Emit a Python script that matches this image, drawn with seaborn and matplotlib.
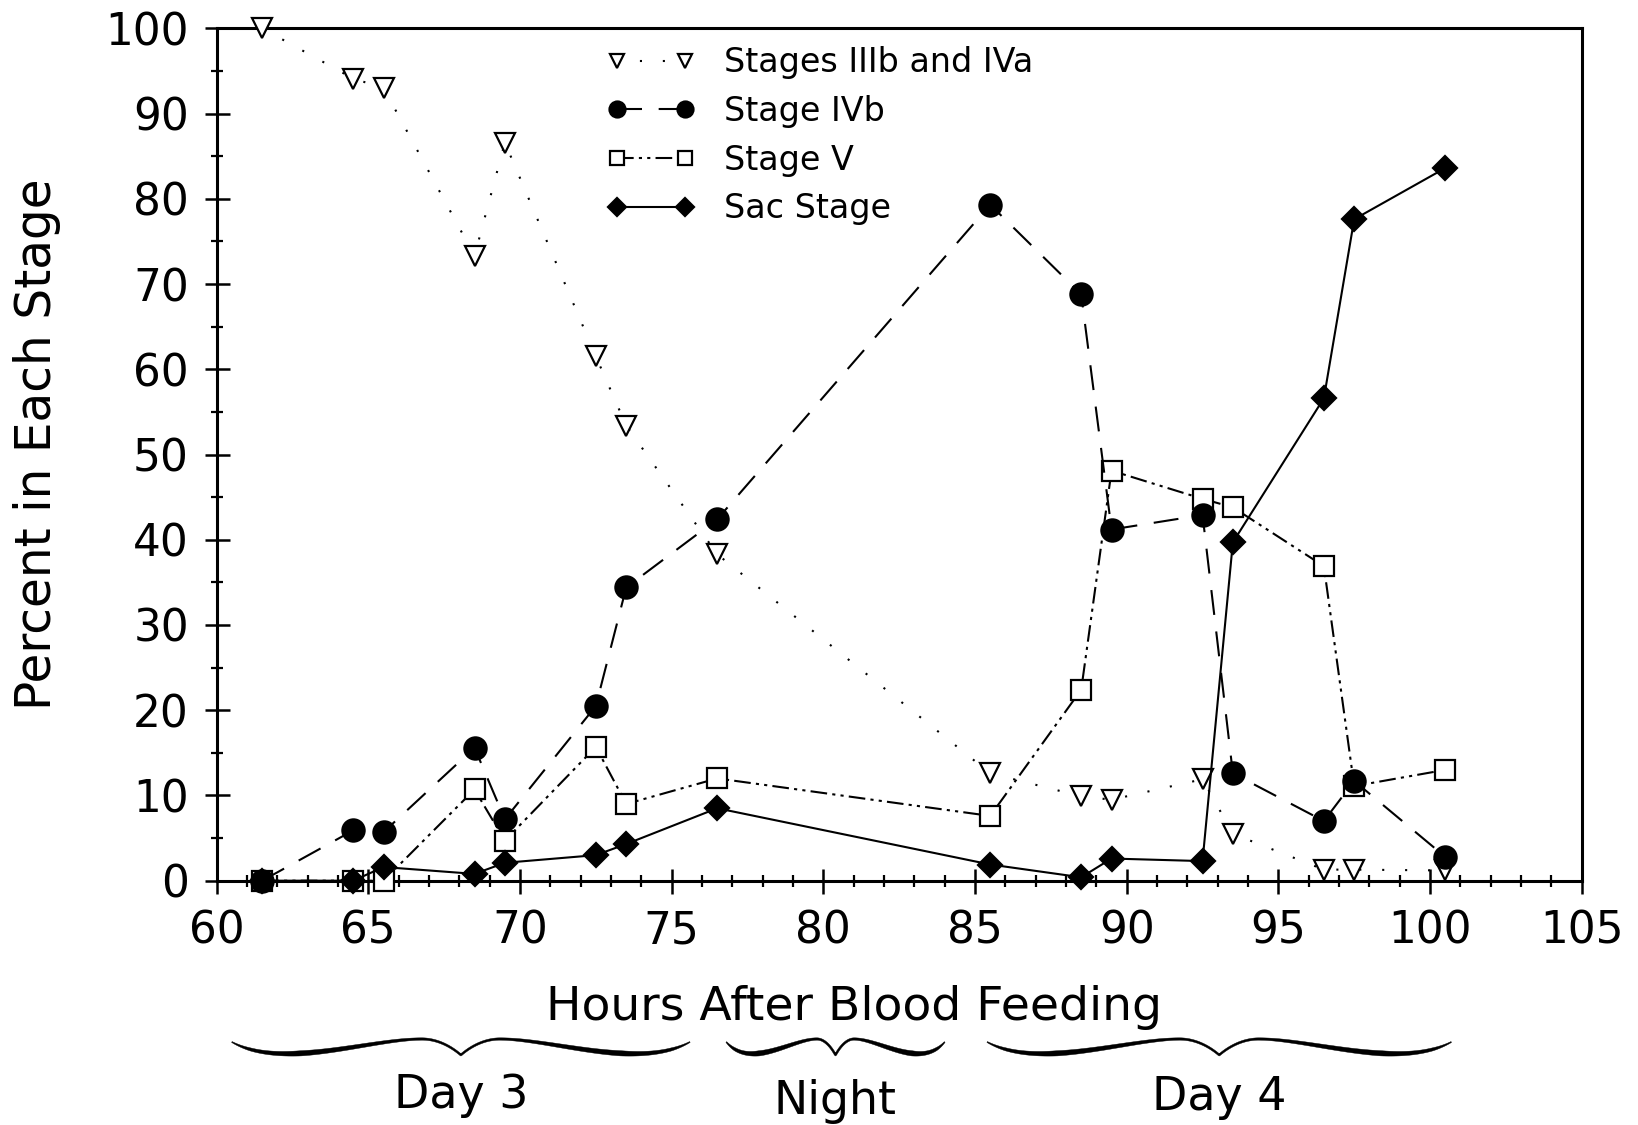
import numpy as np
import pandas as pd
import matplotlib
matplotlib.use("Agg")
import matplotlib.pyplot as plt
import seaborn as sns
from matplotlib.patches import Polygon

# ---------------- data ----------------
hours = [61.5, 64.5, 65.5, 68.5, 69.5, 72.5, 73.5, 76.5,
         85.5, 88.5, 89.5, 92.5, 93.5, 96.5, 97.5, 100.5]
stage_3b_4a = [100, 94.1, 93.0, 73.3, 86.6, 61.5, 53.4, 38.3,
               12.6, 9.9, 9.5, 11.9, 5.5, 1.3, 1.3, 1.2]
stage_4b = [0, 5.9, 5.7, 15.6, 7.2, 20.5, 34.4, 42.4,
            79.3, 68.8, 41.2, 42.9, 12.6, 7.0, 11.7, 2.8]
stage_5 = [0, 0, 0, 10.7, 4.7, 15.7, 9.0, 12.0,
           7.6, 22.4, 48.1, 44.8, 43.8, 36.9, 11.1, 13.0]
sac_stage = [0, 0, 1.6, 0.8, 2.1, 3.0, 4.3, 8.5,
             1.9, 0.4, 2.6, 2.3, 39.7, 56.6, 77.6, 83.6]

series_labels = ["Stages IIIb and IVa", "Stage IVb", "Stage V", "Sac Stage"]
x_ticks = [60, 65, 70, 75, 80, 85, 90, 95, 100, 105]
y_ticks = [0, 10, 20, 30, 40, 50, 60, 70, 80, 90, 100]

period_labels = ["Day 3", "Night", "Day 4"]
period_spans = [(60.5, 75.6), (76.8, 84.0), (85.4, 100.7)]

x_title = "Hours After Blood Feeding"
y_title = "Percent in Each Stage"

# ---------------- style ----------------
sns.set_theme(style="white")
plt.rcParams["font.family"] = ["DejaVu Sans"]
plt.rcParams["text.color"] = "black"

W, H = 1638, 1125
fig = plt.figure(figsize=(W / 100, H / 100), dpi=100)
ax = fig.add_axes([216.7 / W, 1 - 880.7 / H, (1581.7 - 216.7) / W, (880.7 - 28.3) / H])
ax.set_facecolor("white")

lw = 1.5
mew = 1.6
common = dict(ax=ax, color="black", lw=lw, sort=False, errorbar=None, mew=mew,
              mec="black", clip_on=False)

sns.lineplot(x=hours, y=stage_3b_4a, marker="v", markersize=14, mfc="white",
             linestyle=(0, (1, 10)), label=series_labels[0], zorder=3.0, **common)
sns.lineplot(x=hours, y=stage_4b, marker="o", markersize=16, mfc="black",
             linestyle=(0, (12, 8)), label=series_labels[1], zorder=3.2, **common)
sns.lineplot(x=hours, y=stage_5, marker="s", markersize=14, mfc="white",
             linestyle=(0, (8, 2.5, 1.5, 2.5, 1.5, 2.5)), label=series_labels[2],
             zorder=3.1, **common)
sns.lineplot(x=hours, y=sac_stage, marker="D", markersize=12.5, mfc="black",
             linestyle="-", label=series_labels[3], zorder=3.3, **common)

ax.set_xlim(60, 105)
ax.set_ylim(0, 100)
ax.set_xticks(x_ticks)
ax.set_yticks(y_ticks)
ax.set_xticks(np.arange(60, 106, 1), minor=True)
ax.set_yticks(np.arange(0, 101, 5), minor=True)
ax.set_xlabel("")
ax.set_ylabel("")

for s in ax.spines.values():
    s.set_visible(True)
    s.set_color("black")
    s.set_linewidth(2.2)

ax.tick_params(axis="both", which="major", direction="inout", length=18, width=1.8,
               color="black", labelsize=31.5, labelcolor="black")
ax.tick_params(axis="both", which="minor", direction="inout", length=9, width=1.6, color="black")
ax.tick_params(axis="x", which="both", top=False, bottom=True, pad=12)
ax.tick_params(axis="y", which="both", right=False, left=True, pad=11)

leg = ax.legend(loc="upper left", bbox_to_anchor=(0.286, 0.979), frameon=False,
                fontsize=24, handlelength=2.63, handletextpad=0.87, labelspacing=0.47,
                borderpad=0, borderaxespad=0, markerscale=0.72, numpoints=2)

# axis titles
fig.text(853.6 / W, 1 - 1008 / H, x_title, ha="center", va="center", fontsize=34)
fig.text(36.6 / W, 1 - 444 / H, y_title, ha="center", va="center", fontsize=35, rotation=90)


# ---------------- braces ----------------
def bez(p0, p1, p2, p3, n=80):
    t = np.linspace(0, 1, n)[:, None]
    return ((1 - t) ** 3) * p0 + 3 * ((1 - t) ** 2) * t * p1 + 3 * (1 - t) * t ** 2 * p2 + t ** 3 * p3


def brace(x0_px, x1_px, ytop_px):
    h = (x1_px - x0_px) / 2.0
    xm = x0_px + h
    P = lambda u, dy: np.array([x0_px + u * h, ytop_px + dy])
    a = bez(P(0, 5), P(0.22, 33), P(0.6, 2), P(0.83, 2))
    b = bez(P(0.83, 2), P(0.9, 2), P(0.96, 10), P(1.0, 18))
    left = np.vstack([a, b[1:]])
    u = (left[:, 0] - x0_px) / h
    thick = np.interp(u, [0, 0.08, 0.3, 0.5, 0.8, 1.0], [1.0, 3.0, 5.2, 4.2, 2.4, 2.0])
    right = left[::-1].copy()
    right[:, 0] = 2 * xm - right[:, 0]
    pts = np.vstack([left, right[1:]])
    th = np.concatenate([thick, thick[::-1][1:]])
    d = np.gradient(pts, axis=0)
    nrm = np.stack([-d[:, 1], d[:, 0]], axis=1)
    nrm /= np.linalg.norm(nrm, axis=1, keepdims=True) + 1e-9
    upper = pts + nrm * th[:, None] / 2
    lower = pts - nrm * th[:, None] / 2
    poly = np.vstack([upper, lower[::-1]])
    return np.stack([poly[:, 0] / W, 1 - poly[:, 1] / H], axis=1)


fig.canvas.draw()
label_y = {"Day 3": 1095, "Night": 1101, "Day 4": 1097}
for lab, (xa, xb) in zip(period_labels, period_spans):
    pa = ax.transData.transform((xa, 0))[0]
    pb = ax.transData.transform((xb, 0))[0]
    fig.patches.append(Polygon(brace(pa, pb, 1037), closed=True, facecolor="black",
                               edgecolor="black", lw=0.3, transform=fig.transFigure, figure=fig))
    fig.text(((pa + pb) / 2) / W, 1 - label_y[lab] / H, lab, ha="center", va="center", fontsize=33)

fig.savefig("out.png", dpi=100, facecolor="white")
